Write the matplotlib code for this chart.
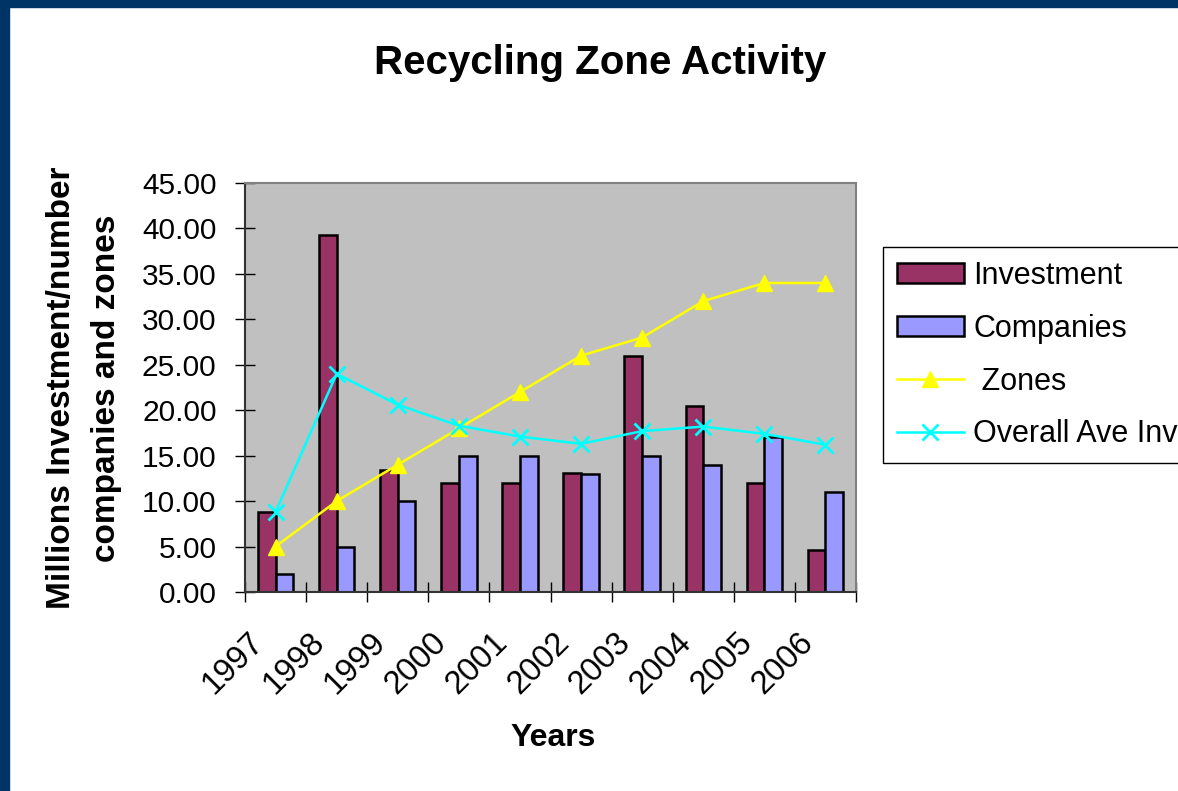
import matplotlib
matplotlib.use("Agg")
import matplotlib.pyplot as plt
import matplotlib.patches as patches
import matplotlib.transforms as transforms
import numpy as np

plt.rcParams['font.family'] = ['Liberation Sans', 'DejaVu Sans']

# Data
years = ['1997', '1998', '1999', '2000', '2001', '2002', '2003', '2004', '2005', '2006']
investment = [8.8, 39.3, 13.4, 12.0, 12.0, 13.1, 26.0, 20.5, 12.0, 4.6]
companies = [2, 5, 10, 15, 15, 13, 15, 14, 17, 11]
zones = [5, 10, 14, 18, 22, 26, 28, 32, 34, 34]
overall_ave = [8.8, 24.0, 20.6, 18.3, 17.1, 16.3, 17.7, 18.2, 17.4, 16.2]
y_ticks = [0, 5, 10, 15, 20, 25, 30, 35, 40, 45]

fig = plt.figure(figsize=(11.78, 7.91), dpi=100)
fig.patch.set_facecolor('white')

# navy frame on the top and left edge
fig.add_artist(patches.Rectangle((0, 1 - 7 / 791), 1, 7 / 791, transform=fig.transFigure,
                                 color='#003366', zorder=0))
fig.add_artist(patches.Rectangle((0, 0), 9 / 1178, 1, transform=fig.transFigure,
                                 color='#003366', zorder=0))

ax = fig.add_axes([245 / 1178, 1 - 592 / 791, (856 - 245) / 1178, (592 - 183) / 791])
ax.set_facecolor('#C0C0C0')

x = np.arange(len(years)) + 0.5
w = 0.29
b1 = ax.bar(x - w / 2, investment, w, color='#993366', edgecolor='black', linewidth=1.8,
            label='Investment', zorder=2)
b2 = ax.bar(x + w / 2, companies, w, color='#9999FF', edgecolor='black', linewidth=1.8,
            label='Companies', zorder=2)
l1, = ax.plot(x, zones, color='#FFFF00', linewidth=1.8, marker='^', markersize=12,
              label=' Zones', zorder=3)
l2, = ax.plot(x, overall_ave, color='#00FFFF', linewidth=1.8, marker='x', markersize=12,
              markeredgewidth=2, label='Overall Ave Inv', zorder=3)

ax.set_xlim(0, len(years))
ax.set_ylim(0, 45)

ax.set_yticks(y_ticks)
ax.set_yticklabels(['%.2f' % v for v in y_ticks])
ax.tick_params(axis='y', direction='inout', length=15, width=1, pad=13,
               labelsize=21.5, color='black')

# labels in the middle of each category, ticks on the boundaries
ax.set_xticks(x)
ax.set_xticklabels(years, rotation=45, ha='right', va='top', rotation_mode='anchor')
ax.set_xticks(np.arange(len(years) + 1), minor=True)
ax.tick_params(axis='x', which='major', length=0, pad=25, labelsize=23.5)
ax.tick_params(axis='x', which='minor', direction='inout', length=14.5, width=1, color='black')
shift = transforms.ScaledTranslation(-20 / 72, 0, fig.dpi_scale_trans)
for lab in ax.get_xticklabels():
    lab.set_transform(lab.get_transform() + shift)

for side in ['top', 'right']:
    ax.spines[side].set_color('#808080')
    ax.spines[side].set_linewidth(1.5)
for side in ['left', 'bottom']:
    ax.spines[side].set_color('#333333')
    ax.spines[side].set_linewidth(1.5)

fig.text(600 / 1178, 1 - 63 / 791, 'Recycling Zone Activity', ha='center', va='center',
         fontsize=29, fontweight='bold')
fig.text(553 / 1178, 1 - 738 / 791, 'Years', ha='center', va='center',
         fontsize=23, fontweight='bold')
fig.text(84 / 1178, 1 - 388 / 791, 'Millions Investment/number\ncompanies and zones',
         rotation=90, ha='center', va='center', multialignment='center',
         fontsize=24, fontweight='bold', linespacing=1.6)

leg = fig.legend([b1, b2, l1, l2], ['Investment', 'Companies', ' Zones', 'Overall Ave Inv'],
                 loc='upper left', bbox_to_anchor=(883 / 1178, 1 - 247 / 791),
                 bbox_transform=fig.transFigure, fontsize=22, frameon=True,
                 fancybox=False, edgecolor='black', facecolor='white', framealpha=1,
                 borderpad=0.45, labelspacing=0.75, handlelength=2.2, handleheight=0.6,
                 handletextpad=0.3, borderaxespad=0)
leg.get_frame().set_linewidth(1)

fig.savefig('out.png', dpi=100)
